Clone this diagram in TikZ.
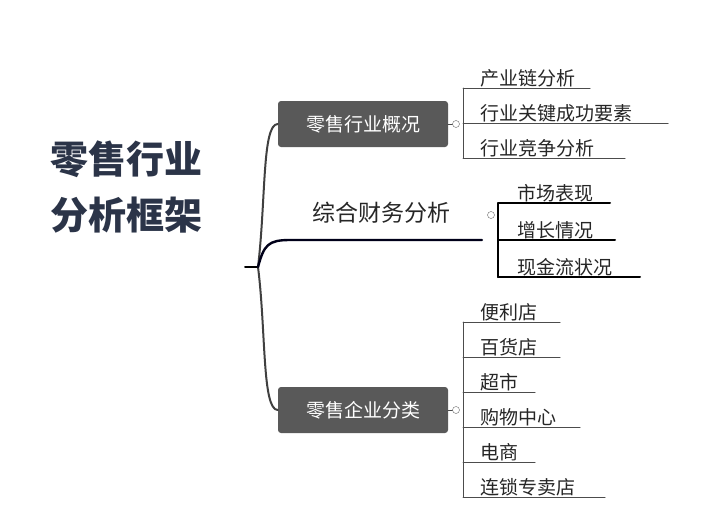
\documentclass[tikz,border=0pt]{standalone}
\usepackage{fontspec}
\setmainfont{Noto Sans CJK SC}
\definecolor{titleink}{HTML}{2B3448}
\begin{document}
\begin{tikzpicture}[x=1pt,y=-1pt, line cap=round]
  \tikzset{topic/.style={fill=black!65, text=white, rounded corners=3pt,
      minimum width=170pt, minimum height=46pt, font=\fontsize{19}{22}\selectfont},
    item/.style={anchor=south west, inner xsep=2pt, inner ysep=1pt,
      font=\fontsize{19}{22}\selectfont, text=black!85},
    branch/.style={draw=black!75, line width=2pt},
    knob/.style={circle, draw=black!60, fill=white, inner sep=0pt, minimum size=7pt}}
  \useasboundingbox (0,0) rectangle (723,520);
  % title
  \node[font=\fontsize{38}{56}\selectfont\bfseries, text=titleink, align=left]
    (title) at (126,187) {零售行业\\分析框架};
  % root
  \coordinate (root) at (258,267);
  \draw[line width=2pt] (245,267) -- (root);
  \node[topic] (trade) at (363,124) {零售行业概况};
  \node[topic] (kind) at (363,410) {零售企业分类};
  \node[font=\fontsize{23}{26}\selectfont, text=black!85] (fin) at (381,213) {综合财务分析};
  \coordinate (finend) at (482,240);
  \draw[branch] (root) .. controls (266,200) and (262,124) .. (trade.west);
  \draw[branch] (root) .. controls (266,330) and (262,410) .. (kind.west);
  \draw[line width=2.4pt, black!90!blue] (root) .. controls (264,245) and (268,240) .. (290,240) -- (finend);
  % top children
  \draw[black!70, line width=1pt] (trade.east) -- (456,124);
  \draw[black!70, line width=1pt] (463,88) -- (463,158);
  \node[knob] (k1) at (456,124) {};
  \foreach \t/\y/\e in {产业链分析/88/590, 行业关键成功要素/123/668, 行业竞争分析/158/625}{
    \node[item] (n) at (478,\y) {\t};
    \draw[black!70, line width=1pt] (463,\y) -- (\e,\y);
  }
  % middle children
  \draw[line width=2pt] (498,203) -- (498,277);
  \node[knob] (k2) at (491,215) {};
  \foreach \t/\y/\e in {市场表现/203/610, 增长情况/240/615, 现金流状况/277/640}{
    \node[item] (n) at (515,\y) {\t};
    \draw[line width=2pt] (498,\y) -- (\e,\y);
  }
  % bottom children
  \draw[black!70, line width=1pt] (kind.east) -- (456,410);
  \draw[black!70, line width=1pt] (463,322) -- (463,497);
  \node[knob] (k3) at (456,410) {};
  \foreach \t/\y/\e in {便利店/322/560, 百货店/357/560, 超市/392/535, 购物中心/427/580, 电商/462/535, 连锁专卖店/497/605}{
    \node[item] (n) at (478,\y) {\t};
    \draw[black!70, line width=1pt] (463,\y) -- (\e,\y);
  }
\end{tikzpicture}
\end{document}
